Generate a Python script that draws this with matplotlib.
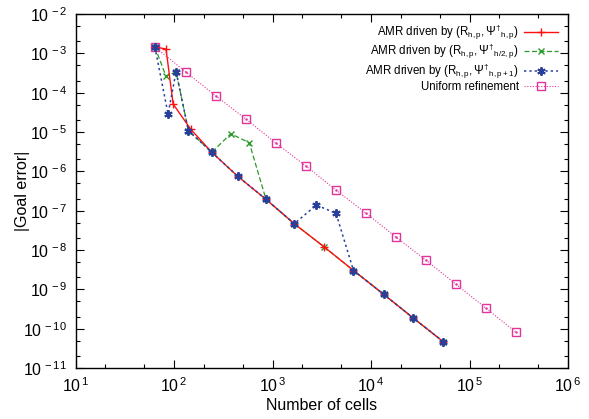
import matplotlib
matplotlib.use("Agg")
import matplotlib.pyplot as plt
from matplotlib.ticker import LogLocator, FuncFormatter, NullFormatter

plt.rcParams['font.family'] = ['Liberation Sans', 'DejaVu Sans']
plt.rcParams['mathtext.fontset'] = 'custom'
plt.rcParams['mathtext.rm'] = 'Liberation Sans'
plt.rcParams['mathtext.it'] = 'Liberation Sans:italic'
plt.rcParams['mathtext.bf'] = 'Liberation Sans:bold'

# AMR driven by (R_hp, Psi_hp)
hp_cells = [64, 83, 98, 148, 242, 444, 859, 1664, 3357, 6641, 13450, 26880, 54170]
hp_err = [1.45e-3, 1.29e-3, 5.15e-5, 1.17e-5, 3.05e-6, 7.46e-7, 1.94e-7, 4.65e-8,
          1.19e-8, 3.01e-9, 7.46e-10, 1.86e-10, 4.66e-11]

# AMR driven by (R_hp, Psi_h/2,p)
h2_cells = [64, 83, 105, 140, 242, 377, 581, 859, 1664, 3357, 6641, 13450, 26880, 54170]
h2_err = [1.45e-3, 2.61e-4, 3.41e-4, 1.08e-5, 3.05e-6, 9.0e-6, 5.35e-6, 1.94e-7,
          4.65e-8, 1.19e-8, 3.01e-9, 7.46e-10, 1.86e-10, 4.66e-11]

# AMR driven by (R_hp, Psi_h,p+1)
p1_cells = [64, 87, 105, 140, 242, 444, 859, 1664, 2784, 4413, 6641, 13450, 26880, 54170]
p1_err = [1.45e-3, 2.87e-5, 3.41e-4, 1.08e-5, 3.05e-6, 7.46e-7, 1.94e-7, 4.65e-8,
          1.39e-7, 8.57e-8, 3.01e-9, 7.46e-10, 1.86e-10, 4.66e-11]

# Uniform refinement
uni_cells = [64, 132, 267, 538, 1086, 2190, 4415, 8900, 17950, 36150, 72900, 147000, 296500]
uni_err = [1.45e-3, 3.34e-4, 8.2e-5, 2.13e-5, 5.2e-6, 1.36e-6, 3.33e-7, 8.65e-8,
           2.12e-8, 5.5e-9, 1.35e-9, 3.31e-10, 8.1e-11]

labels = [
    r'AMR driven by $\mathregular{(R_{h,p},\Psi^{\dagger}{}_{h,p})}$',
    r'AMR driven by $\mathregular{(R_{h,p},\Psi^{\dagger}{}_{h/2,p})}$',
    r'AMR driven by $\mathregular{(R_{h,p},\Psi^{\dagger}{}_{h,p+1})}$',
    'Uniform refinement',
]

fig = plt.figure(figsize=(5.89, 4.19), dpi=100)
ax = fig.add_axes([75.5/589, 1-368/419, (568-75.5)/589, (368-14)/419])

ax.plot(hp_cells, hp_err, color='#ff1010', ls='-', lw=1.0, marker='+', ms=6, mew=1.0,
        label=labels[0], zorder=4)
ax.plot(h2_cells, h2_err, color='#2a9a2a', ls=(0, (4, 2)), lw=0.9, marker='x', ms=5, mew=1.0,
        label=labels[1], zorder=3)
ax.plot(p1_cells, p1_err, color='#2a3f9a', ls=(0, (1.5, 2)), lw=1.1, marker=(6, 2, 0), ms=6, mew=1.4,
        label=labels[2], zorder=5)
ax.plot(uni_cells, uni_err, color='#e0359a', ls=(0, (1, 1.5)), lw=0.8, marker='s', ms=5.5, mew=1.0,
        mfc='none', label=labels[3], zorder=2)
ax.plot(uni_cells, uni_err, ls='none', marker='.', ms=1.5, color='#e0359a', zorder=2)

ax.set_xscale('log')
ax.set_yscale('log')
ax.set_xlim(10, 1e6)
ax.set_ylim(1e-11, 1e-2)

def fmt(v, pos):
    import math
    e = int(round(math.log10(v)))
    return r'$\mathregular{10^{\,%d}}$' % e

for axis in (ax.xaxis, ax.yaxis):
    axis.set_major_locator(LogLocator(base=10, numticks=20))
    axis.set_minor_locator(LogLocator(base=10, subs=(2.0, 5.0), numticks=20))
    axis.set_major_formatter(FuncFormatter(fmt))
    axis.set_minor_formatter(NullFormatter())

ax.tick_params(which='both', direction='in', top=True, right=True, labelsize=11.5, width=0.8)
ax.tick_params(which='major', length=6)
ax.tick_params(which='minor', length=3)
ax.tick_params(axis='x', pad=6)
ax.tick_params(axis='y', pad=6)
for s in ax.spines.values():
    s.set_linewidth(1.0)

ax.set_xlabel('Number of cells', fontsize=11.5, labelpad=2)
ax.set_ylabel('|Goal error|', fontsize=11.5)
ax.yaxis.set_label_coords(-0.092, 0.5)

leg = ax.legend(loc='upper right', bbox_to_anchor=(0.99, 0.988), frameon=False,
                markerfirst=False, alignment='right', fontsize=8.3,
                handlelength=3.0, handletextpad=0.45, labelspacing=0.02, borderaxespad=0)

fig.savefig('out.png', dpi=100)
